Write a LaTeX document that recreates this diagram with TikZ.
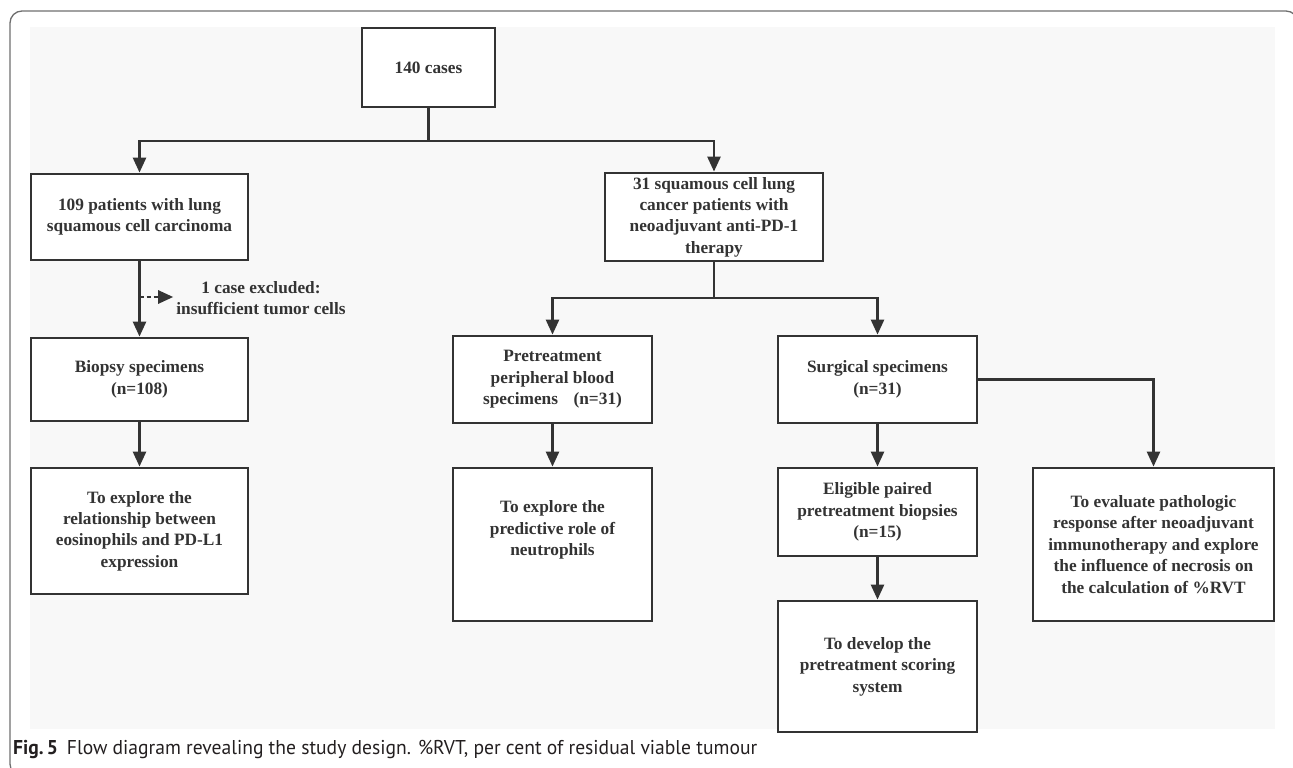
\documentclass[tikz,border=0pt]{standalone}
\usepackage{fontspec}
\usepackage{graphicx}
\setmainfont{Liberation Serif}
\newfontfamily\capfont{PT Sans}
\usetikzlibrary{arrows.meta,calc}
\definecolor{linec}{HTML}{333333}
\definecolor{txtc}{HTML}{333333}
\definecolor{panel}{HTML}{F8F8F8}
\definecolor{framec}{HTML}{6E6E6E}
\definecolor{capc}{HTML}{231F20}
\begin{document}
\begin{tikzpicture}[x=1pt,y=-1pt,
  box/.style={draw=linec, line width=2.8pt, fill=white, text=txtc, align=center, inner sep=0pt,
    font=\fontsize{17.3}{21.4}\selectfont\bfseries},
  plain/.style={text=txtc, align=center, inner sep=0pt, font=\fontsize{17.3}{21.4}\selectfont\bfseries},
  arr/.style={draw=linec, line width=2.6pt, -{Triangle[length=15pt,width=13pt]}},
  seg/.style={draw=linec, line width=2.6pt},
  dasharr/.style={arr, dash pattern=on 4pt off 3pt}]
\useasboundingbox (0,0) rectangle (1293,768);
\begin{scope}
\clip (0,0) rectangle (1293,768);
\draw[framec, line width=1.3pt, rounded corners=12pt] (10,11) rectangle (1298,776);
\end{scope}
\fill[panel] (30,27) rectangle (1275,729);

% nodes
\node[box, minimum width=133pt, minimum height=79pt] (c140) at (428.5,67.5) {140 cases};
\node[box, minimum width=217pt, minimum height=86pt] (b109) at (139.5,217) {109 patients with lung\\squamous cell carcinoma};
\node[box, minimum width=218pt, minimum height=88pt] (b31) at (714,217) {31 squamous cell lung\\cancer patients with\\neoadjuvant anti-PD-1\\therapy};
\node[box, minimum width=217pt, minimum height=83pt] (bbio) at (139.5,379.5) {Biopsy specimens\\(n=108)};
\node[box, minimum width=217pt, minimum height=126pt] (beos) at (139.5,531) {To explore the\\relationship between\\eosinophils and PD-L1\\expression};
\node[box, minimum width=199pt, minimum height=87pt] (bpre) at (552.5,379.5) {Pretreatment\\peripheral blood\\specimens\hspace{0.9em}(n=31)};
\node[box, minimum width=199pt, minimum height=153pt] (bneu) at (552.5,544.5) {};
\node[plain] (bneutxt) at (552.5,530) {To explore the\\predictive role of\\neutrophils};
\node[box, minimum width=199pt, minimum height=87pt] (bsur) at (877.5,379.5) {Surgical specimens\\(n=31)};
\node[box, minimum width=199pt, minimum height=88pt] (belig) at (877.5,512) {Eligible paired\\pretreatment biopsies\\(n=15)};
\node[box, minimum width=199pt, minimum height=131pt] (bscore) at (877.5,666.5) {To develop the\\pretreatment scoring\\system};
\node[box, minimum width=241pt, minimum height=153pt] (beval) at (1153.5,544.5) {To evaluate pathologic\\response after neoadjuvant\\immunotherapy and explore\\the influence of necrosis on\\the calculation of \%RVT};
\node[plain] (exc) at (261,298) {1 case excluded:\\insufficient tumor cells};

% connectors
\coordinate (j1) at (428.5,141);
\coordinate (j2) at (714,298);
\coordinate (ex) at (139.5,297);
\draw[seg] (c140.south) -- (j1);
\draw[arr] (j1) -| (b109.north);
\draw[arr] (j1) -| (b31.north);
\draw[arr] (b109.south) -- (bbio.north);
\draw[dasharr, shorten >=3pt] (ex) -- (ex -| exc.west);
\draw[arr] (bbio.south) -- (beos.north);
\draw[seg] (b31.south) -- (j2);
\draw[arr] (j2) -| (bpre.north);
\draw[arr] (j2) -| (bsur.north);
\draw[arr] (bpre.south) -- (bneu.north);
\draw[arr] (bsur.south) -- (belig.north);
\draw[arr] (belig.south) -- (bscore.north);
\draw[arr] (bsur.east) -| (beval.north);

% caption
\node[anchor=base west, inner sep=0pt, text=capc] (cap) at (13,754)
  {\resizebox{744pt}{\height}{\capfont\fontsize{20}{24}\selectfont\textbf{Fig.\,5}\hspace{0.45em}Flow diagram revealing the study design. \%RVT, per cent of residual viable tumour}};
\end{tikzpicture}
\end{document}
